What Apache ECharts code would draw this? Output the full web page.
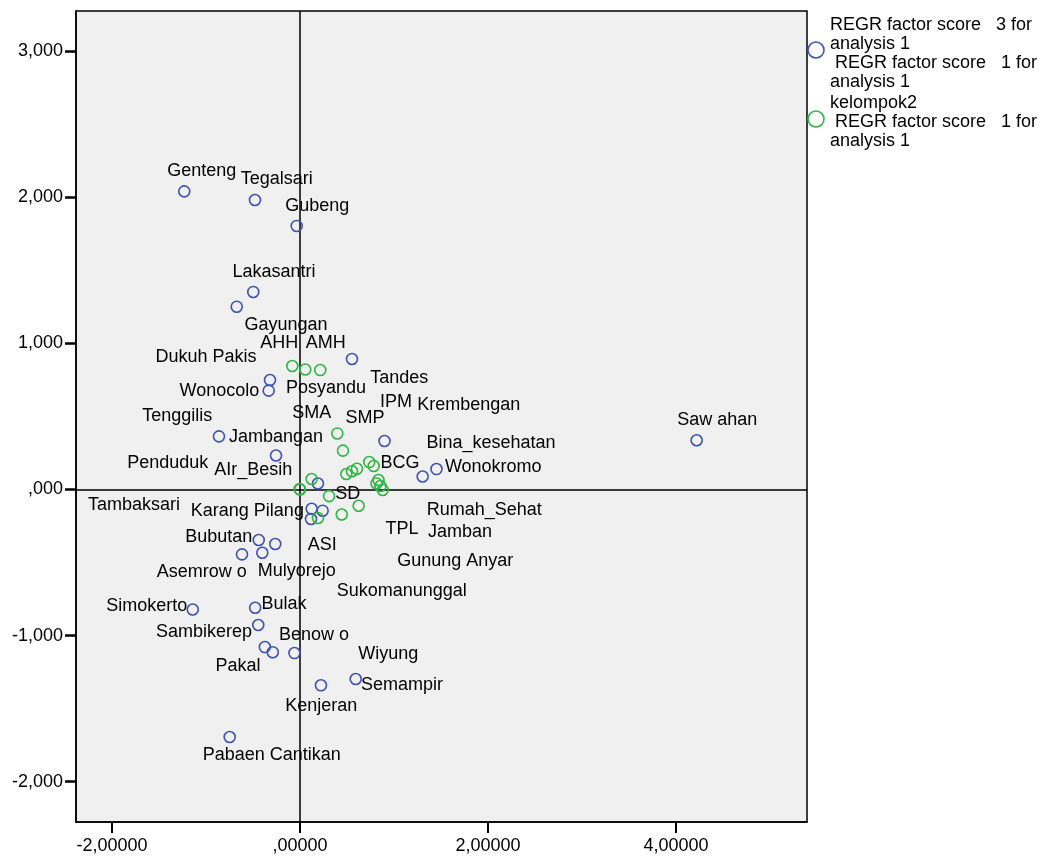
<!DOCTYPE html>
<html>
<head>
<meta charset="utf-8">
<script src="https://cdn.jsdelivr.net/npm/echarts@6/dist/echarts.min.js"></script>
<style>
  html, body { margin: 0; padding: 0; background: #fff; }
  #chart { width: 1049px; height: 856px; }
</style>
</head>
<body>
<div id="chart"></div>
<script>
// Factor scores per kecamatan: [factor 1, factor 3]
const kecamatanScores = [
  [-1.231, 2.042], [-0.479, 1.983], [-0.035, 1.805], [-0.497, 1.353],
  [-0.673, 1.252], [0.553, 0.894], [-0.319, 0.750], [-0.333, 0.677],
  [-0.862, 0.364], [-0.255, 0.233], [0.899, 0.332], [0.191, 0.041],
  [0.124, -0.132], [0.241, -0.145], [0.117, -0.202], [-0.439, -0.346],
  [-0.263, -0.373], [-0.617, -0.444], [-0.401, -0.433], [-1.141, -0.822],
  [-0.477, -0.810], [-0.444, -0.928], [-0.374, -1.079], [-0.290, -1.114],
  [-0.059, -1.120], [0.223, -1.341], [0.593, -1.298], [-0.748, -1.695],
  [1.305, 0.089], [1.452, 0.140], [4.220, 0.337]
];

// Indicator scores (kelompok2): [factor 1, kelompok2]
const indikatorScores = [
  [-0.082, 0.846], [0.056, 0.822], [0.216, 0.818], [0.397, 0.384],
  [0.457, 0.266], [0.493, 0.106], [0.553, 0.125], [0.606, 0.142],
  [0.737, 0.188], [0.784, 0.161], [0.835, 0.065], [0.814, 0.041],
  [0.856, 0.024], [0.880, -0.003], [0.124, 0.072], [0.000, 0.000],
  [-0.004, 0.003], [0.309, -0.045], [0.624, -0.111], [0.444, -0.171],
  [0.191, -0.195]
];

// Case labels and where they sit, in axis units
const caseLabels = [
  ['Genteng', -1.046, 2.182], ['Tegalsari', -0.248, 2.123], ['Gubeng', 0.184, 1.942],
  ['Lakasantri', -0.277, 1.490], ['Gayungan', -0.149, 1.127], ['AHH', -0.220, 1.000],
  ['AMH', 0.274, 1.000], ['Dukuh Pakis', -1.000, 0.908], ['Wonocolo', -0.858, 0.676],
  ['Posyandu', 0.277, 0.697], ['Tandes', 1.056, 0.766], ['IPM', 1.021, 0.600],
  ['Krembengan', 1.795, 0.579], ['SMA', 0.124, 0.526], ['SMP', 0.691, 0.487],
  ['Tenggilis', -1.305, 0.505], ['Jambangan', -0.255, 0.357], ['Bina_kesehatan', 2.032, 0.320],
  ['Penduduk', -1.407, 0.184], ['AIr_Besih', -0.497, 0.134], ['BCG', 1.064, 0.184],
  ['Wonokromo', 2.056, 0.156], ['Saw ahan', 4.440, 0.476], ['SD', 0.508, -0.031],
  ['Tambaksari', -1.766, -0.103], ['Karang Pilang', -0.560, -0.145], ['Rumah_Sehat', 1.961, -0.141],
  ['TPL', 1.085, -0.273], ['Jamban', 1.702, -0.291], ['Bubutan', -0.865, -0.324],
  ['ASI', 0.237, -0.381], ['Gunung Anyar', 1.652, -0.490], ['Asemrow o', -1.046, -0.567],
  ['Mulyorejo', -0.035, -0.558], ['Sukomanunggal', 1.082, -0.694], ['Simokerto', -1.631, -0.796],
  ['Bulak', -0.170, -0.786], ['Sambikerep', -1.021, -0.976], ['Benow o', 0.149, -0.998],
  ['Pakal', -0.660, -1.207], ['Wiyung', 0.939, -1.127], ['Semampir', 1.085, -1.339],
  ['Kenjeran', 0.227, -1.481], ['Pabaen Cantikan', -0.301, -1.818]
];

const xTicks = [-2, 0, 2, 4];
const yTicks = [-2, -1, 0, 1, 2, 3];

const legendLines = [
  ['REGR factor score   3 for', 'analysis 1', ' REGR factor score   1 for', 'analysis 1'],
  ['kelompok2', ' REGR factor score   1 for', 'analysis 1']
];

const BLUE = '#3d52b3';
const GREEN = '#2fb543';
const FONT = '"Liberation Sans", Arial, sans-serif';

const chart = echarts.init(document.getElementById('chart'), null, { renderer: 'canvas' });

function fmtComma(v, digits) {
  let s = Math.abs(v).toFixed(digits).replace('.', ',');
  if (s.startsWith('0,')) s = s.slice(1);
  return (v < 0 ? '-' : '') + s;
}

const legendGraphics = [];
function addLegendBlock(lines, top, circleY, color) {
  lines.forEach((t, i) => {
    legendGraphics.push({
      type: 'text', left: 830, top: top + i * 19,
      style: { text: t, font: '18px ' + FONT, fill: '#000' }
    });
  });
  legendGraphics.push({
    type: 'circle', shape: { cx: 816, cy: circleY, r: 8 },
    style: { fill: 'none', stroke: color, lineWidth: 1.6 }
  });
}
addLegendBlock(legendLines[0], 16, 50, BLUE);
addLegendBlock(legendLines[1], 94, 119, GREEN);

chart.setOption({
  animation: false,
  backgroundColor: '#fff',
  grid: {
    left: 76, top: 11, right: 242, bottom: 34,
    show: true, backgroundColor: '#f0f0f0', borderColor: '#000', borderWidth: 1.5
  },
  xAxis: {
    type: 'value', min: -2.383, max: 5.394,
    axisLine: { show: true, onZero: false, lineStyle: { color: '#000', width: 1.5 } },
    axisTick: { show: true, customValues: xTicks, length: 11, lineStyle: { color: '#000', width: 2 } },
    axisLabel: {
      customValues: xTicks, color: '#000', fontSize: 18, fontFamily: FONT, margin: 15,
      formatter: v => fmtComma(v, 5)
    },
    splitLine: { show: false }
  },
  yAxis: {
    type: 'value', min: -2.277, max: 3.277,
    axisLine: { show: true, onZero: false, lineStyle: { color: '#000', width: 1.5 } },
    axisTick: { show: true, customValues: yTicks, length: 11, lineStyle: { color: '#000', width: 2.5 } },
    axisLabel: {
      customValues: yTicks, color: '#000', fontSize: 18, fontFamily: FONT, margin: 13,
      formatter: v => fmtComma(v, 3)
    },
    splitLine: { show: false }
  },
  graphic: legendGraphics,
  series: [
    {
      type: 'scatter', name: 'REGR factor score 3', data: kecamatanScores,
      symbol: 'circle', symbolSize: 11, z: 3,
      itemStyle: { color: 'rgba(0,0,0,0)', borderColor: BLUE, borderWidth: 1.6, opacity: 1 },
      markLine: {
        silent: true, symbol: 'none', label: { show: false },
        lineStyle: { color: '#000', width: 1.5, type: 'solid', opacity: 1 },
        data: [{ xAxis: 0 }, { yAxis: 0 }],
        z: 2
      }
    },
    {
      type: 'scatter', name: 'kelompok2', data: indikatorScores,
      symbol: 'circle', symbolSize: 11, z: 4,
      itemStyle: { color: 'rgba(0,0,0,0)', borderColor: GREEN, borderWidth: 1.6, opacity: 1 }
    },
    {
      type: 'scatter', name: 'labels', silent: true, z: 5,
      data: caseLabels.map(d => ({ value: [d[1], d[2]], name: d[0] })),
      symbolSize: 0,
      itemStyle: { opacity: 1 },
      label: {
        show: true, position: 'inside', formatter: p => p.name,
        color: '#000', fontSize: 18, fontFamily: FONT
      }
    }
  ]
});
</script>
</body>
</html>
